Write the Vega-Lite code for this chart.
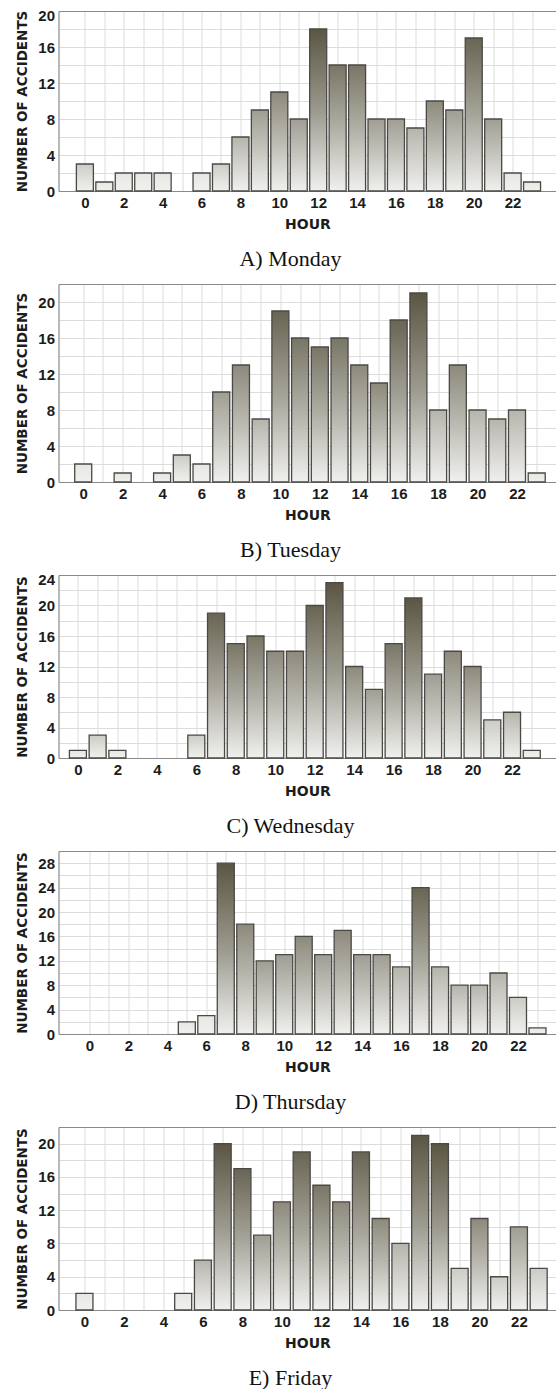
{
  "$schema": "https://vega.github.io/schema/vega-lite/v6.json",
  "background": "white",
  "padding": {"left": 15.5, "top": 8, "right": 0, "bottom": 0},
  "bounds": "flush",
  "spacing": 93,
  "datasets": {
    "accidents": [
      {"day": "Monday", "hour": 0, "n": 3}, {"day": "Monday", "hour": 1, "n": 1}, {"day": "Monday", "hour": 2, "n": 2}, {"day": "Monday", "hour": 3, "n": 2},
      {"day": "Monday", "hour": 4, "n": 2}, {"day": "Monday", "hour": 5, "n": 0}, {"day": "Monday", "hour": 6, "n": 2}, {"day": "Monday", "hour": 7, "n": 3},
      {"day": "Monday", "hour": 8, "n": 6}, {"day": "Monday", "hour": 9, "n": 9}, {"day": "Monday", "hour": 10, "n": 11}, {"day": "Monday", "hour": 11, "n": 8},
      {"day": "Monday", "hour": 12, "n": 18}, {"day": "Monday", "hour": 13, "n": 14}, {"day": "Monday", "hour": 14, "n": 14}, {"day": "Monday", "hour": 15, "n": 8},
      {"day": "Monday", "hour": 16, "n": 8}, {"day": "Monday", "hour": 17, "n": 7}, {"day": "Monday", "hour": 18, "n": 10}, {"day": "Monday", "hour": 19, "n": 9},
      {"day": "Monday", "hour": 20, "n": 17}, {"day": "Monday", "hour": 21, "n": 8}, {"day": "Monday", "hour": 22, "n": 2}, {"day": "Monday", "hour": 23, "n": 1},
      {"day": "Tuesday", "hour": 0, "n": 2}, {"day": "Tuesday", "hour": 1, "n": 0}, {"day": "Tuesday", "hour": 2, "n": 1}, {"day": "Tuesday", "hour": 3, "n": 0},
      {"day": "Tuesday", "hour": 4, "n": 1}, {"day": "Tuesday", "hour": 5, "n": 3}, {"day": "Tuesday", "hour": 6, "n": 2}, {"day": "Tuesday", "hour": 7, "n": 10},
      {"day": "Tuesday", "hour": 8, "n": 13}, {"day": "Tuesday", "hour": 9, "n": 7}, {"day": "Tuesday", "hour": 10, "n": 19}, {"day": "Tuesday", "hour": 11, "n": 16},
      {"day": "Tuesday", "hour": 12, "n": 15}, {"day": "Tuesday", "hour": 13, "n": 16}, {"day": "Tuesday", "hour": 14, "n": 13}, {"day": "Tuesday", "hour": 15, "n": 11},
      {"day": "Tuesday", "hour": 16, "n": 18}, {"day": "Tuesday", "hour": 17, "n": 21}, {"day": "Tuesday", "hour": 18, "n": 8}, {"day": "Tuesday", "hour": 19, "n": 13},
      {"day": "Tuesday", "hour": 20, "n": 8}, {"day": "Tuesday", "hour": 21, "n": 7}, {"day": "Tuesday", "hour": 22, "n": 8}, {"day": "Tuesday", "hour": 23, "n": 1},
      {"day": "Wednesday", "hour": 0, "n": 1}, {"day": "Wednesday", "hour": 1, "n": 3}, {"day": "Wednesday", "hour": 2, "n": 1}, {"day": "Wednesday", "hour": 3, "n": 0},
      {"day": "Wednesday", "hour": 4, "n": 0}, {"day": "Wednesday", "hour": 5, "n": 0}, {"day": "Wednesday", "hour": 6, "n": 3}, {"day": "Wednesday", "hour": 7, "n": 19},
      {"day": "Wednesday", "hour": 8, "n": 15}, {"day": "Wednesday", "hour": 9, "n": 16}, {"day": "Wednesday", "hour": 10, "n": 14}, {"day": "Wednesday", "hour": 11, "n": 14},
      {"day": "Wednesday", "hour": 12, "n": 20}, {"day": "Wednesday", "hour": 13, "n": 23}, {"day": "Wednesday", "hour": 14, "n": 12}, {"day": "Wednesday", "hour": 15, "n": 9},
      {"day": "Wednesday", "hour": 16, "n": 15}, {"day": "Wednesday", "hour": 17, "n": 21}, {"day": "Wednesday", "hour": 18, "n": 11}, {"day": "Wednesday", "hour": 19, "n": 14},
      {"day": "Wednesday", "hour": 20, "n": 12}, {"day": "Wednesday", "hour": 21, "n": 5}, {"day": "Wednesday", "hour": 22, "n": 6}, {"day": "Wednesday", "hour": 23, "n": 1},
      {"day": "Thursday", "hour": 0, "n": 0}, {"day": "Thursday", "hour": 1, "n": 0}, {"day": "Thursday", "hour": 2, "n": 0}, {"day": "Thursday", "hour": 3, "n": 0},
      {"day": "Thursday", "hour": 4, "n": 0}, {"day": "Thursday", "hour": 5, "n": 2}, {"day": "Thursday", "hour": 6, "n": 3}, {"day": "Thursday", "hour": 7, "n": 28},
      {"day": "Thursday", "hour": 8, "n": 18}, {"day": "Thursday", "hour": 9, "n": 12}, {"day": "Thursday", "hour": 10, "n": 13}, {"day": "Thursday", "hour": 11, "n": 16},
      {"day": "Thursday", "hour": 12, "n": 13}, {"day": "Thursday", "hour": 13, "n": 17}, {"day": "Thursday", "hour": 14, "n": 13}, {"day": "Thursday", "hour": 15, "n": 13},
      {"day": "Thursday", "hour": 16, "n": 11}, {"day": "Thursday", "hour": 17, "n": 24}, {"day": "Thursday", "hour": 18, "n": 11}, {"day": "Thursday", "hour": 19, "n": 8},
      {"day": "Thursday", "hour": 20, "n": 8}, {"day": "Thursday", "hour": 21, "n": 10}, {"day": "Thursday", "hour": 22, "n": 6}, {"day": "Thursday", "hour": 23, "n": 1},
      {"day": "Friday", "hour": 0, "n": 2}, {"day": "Friday", "hour": 1, "n": 0}, {"day": "Friday", "hour": 2, "n": 0}, {"day": "Friday", "hour": 3, "n": 0},
      {"day": "Friday", "hour": 4, "n": 0}, {"day": "Friday", "hour": 5, "n": 2}, {"day": "Friday", "hour": 6, "n": 6}, {"day": "Friday", "hour": 7, "n": 20},
      {"day": "Friday", "hour": 8, "n": 17}, {"day": "Friday", "hour": 9, "n": 9}, {"day": "Friday", "hour": 10, "n": 13}, {"day": "Friday", "hour": 11, "n": 19},
      {"day": "Friday", "hour": 12, "n": 15}, {"day": "Friday", "hour": 13, "n": 13}, {"day": "Friday", "hour": 14, "n": 19}, {"day": "Friday", "hour": 15, "n": 11},
      {"day": "Friday", "hour": 16, "n": 8}, {"day": "Friday", "hour": 17, "n": 21}, {"day": "Friday", "hour": 18, "n": 20}, {"day": "Friday", "hour": 19, "n": 5},
      {"day": "Friday", "hour": 20, "n": 11}, {"day": "Friday", "hour": 21, "n": 4}, {"day": "Friday", "hour": 22, "n": 10}, {"day": "Friday", "hour": 23, "n": 5}
    ]
  },
  "vconcat": [
    {
      "width": 498, "height": 180,
      "title": {"text": "A) Monday", "dx": -17},
      "data": {"name": "accidents"},
      "transform": [{"filter": "datum.day === 'Monday' && datum.n > 0"}],
      "mark": {"type": "bar", "size": 17, "stroke": "#4a4946", "strokeWidth": 1.3},
      "encoding": {
        "x": {"field": "hour", "type": "quantitative", "scale": {"domain": [-1.1, 24], "nice": false, "zero": false},
              "axis": {"title": "HOUR", "values": [0,1,2,3,4,5,6,7,8,9,10,11,12,13,14,15,16,17,18,19,20,21,22,23], "labelExpr": "datum.value % 2 === 0 ? datum.label : ''"}},
        "y": {"field": "n", "type": "quantitative", "scale": {"domain": [0, 20], "nice": false},
              "axis": {"title": "NUMBER OF ACCIDENTS", "values": [0,2,4,6,8,10,12,14,16,18,20], "labelExpr": "datum.value % 4 === 0 ? datum.label : ''",
                       "labelOffset": {"condition": {"test": "datum.value === 20", "value": 4}, "value": 0},
                       "gridColor": {"condition": {"test": "datum.value === 20", "value": "#8a8a8a"}, "value": "#dcdcdc"}}},
        "color": {
          "condition": [
            {"test": "datum.n >= 17.5", "value": {"gradient": "linear", "x1": 0, "y1": 0, "x2": 0, "y2": 1, "stops": [{"offset": 0, "color": "#5b5643"}, {"offset": 0.5, "color": "#9b998d"}, {"offset": 1, "color": "#f0f0ee"}]}},
            {"test": "datum.n >= 15", "value": {"gradient": "linear", "x1": 0, "y1": 0, "x2": 0, "y2": 1, "stops": [{"offset": 0, "color": "#696554"}, {"offset": 0.5, "color": "#a6a499"}, {"offset": 1, "color": "#f0f0ee"}]}},
            {"test": "datum.n >= 12.5", "value": {"gradient": "linear", "x1": 0, "y1": 0, "x2": 0, "y2": 1, "stops": [{"offset": 0, "color": "#797666"}, {"offset": 0.5, "color": "#b0afa5"}, {"offset": 1, "color": "#f0f0ee"}]}},
            {"test": "datum.n >= 10", "value": {"gradient": "linear", "x1": 0, "y1": 0, "x2": 0, "y2": 1, "stops": [{"offset": 0, "color": "#8d8a7c"}, {"offset": 0.5, "color": "#bbbab1"}, {"offset": 1, "color": "#f0f0ee"}]}},
            {"test": "datum.n >= 7.5", "value": {"gradient": "linear", "x1": 0, "y1": 0, "x2": 0, "y2": 1, "stops": [{"offset": 0, "color": "#a09e93"}, {"offset": 0.5, "color": "#c6c5be"}, {"offset": 1, "color": "#f0f0ee"}]}},
            {"test": "datum.n >= 5", "value": {"gradient": "linear", "x1": 0, "y1": 0, "x2": 0, "y2": 1, "stops": [{"offset": 0, "color": "#b6b5ac"}, {"offset": 0.5, "color": "#d3d2cd"}, {"offset": 1, "color": "#f0f0ee"}]}},
            {"test": "datum.n >= 2.5", "value": {"gradient": "linear", "x1": 0, "y1": 0, "x2": 0, "y2": 1, "stops": [{"offset": 0, "color": "#cccbc5"}, {"offset": 0.5, "color": "#dfdfda"}, {"offset": 1, "color": "#f0f0ee"}]}}
          ],
          "value": {"gradient": "linear", "x1": 0, "y1": 0, "x2": 0, "y2": 1, "stops": [{"offset": 0, "color": "#e6e6e2"}, {"offset": 0.5, "color": "#ececE9"}, {"offset": 1, "color": "#f0f0ee"}]}
        }
      }
    },
    {
      "width": 498, "height": 198,
      "title": {"text": "B) Tuesday", "dx": -17},
      "data": {"name": "accidents"},
      "transform": [{"filter": "datum.day === 'Tuesday' && datum.n > 0"}],
      "mark": {"type": "bar", "size": 17, "stroke": "#4a4946", "strokeWidth": 1.3},
      "encoding": {
        "x": {"field": "hour", "type": "quantitative", "scale": {"domain": [-1.0, 23.75], "nice": false, "zero": false},
              "axis": {"title": "HOUR", "values": [0,1,2,3,4,5,6,7,8,9,10,11,12,13,14,15,16,17,18,19,20,21,22,23], "labelExpr": "datum.value % 2 === 0 ? datum.label : ''"}},
        "y": {"field": "n", "type": "quantitative", "scale": {"domain": [0, 22], "nice": false},
              "axis": {"title": "NUMBER OF ACCIDENTS", "values": [0,2,4,6,8,10,12,14,16,18,20,22], "labelExpr": "datum.value % 4 === 0 ? datum.label : ''",
                       "gridColor": {"condition": {"test": "datum.value === 22", "value": "#8a8a8a"}, "value": "#dcdcdc"}}},
        "color": {
          "condition": [
            {"test": "datum.n >= 19.25", "value": {"gradient": "linear", "x1": 0, "y1": 0, "x2": 0, "y2": 1, "stops": [{"offset": 0, "color": "#5b5643"}, {"offset": 0.5, "color": "#9b998d"}, {"offset": 1, "color": "#f0f0ee"}]}},
            {"test": "datum.n >= 16.5", "value": {"gradient": "linear", "x1": 0, "y1": 0, "x2": 0, "y2": 1, "stops": [{"offset": 0, "color": "#696554"}, {"offset": 0.5, "color": "#a6a499"}, {"offset": 1, "color": "#f0f0ee"}]}},
            {"test": "datum.n >= 13.75", "value": {"gradient": "linear", "x1": 0, "y1": 0, "x2": 0, "y2": 1, "stops": [{"offset": 0, "color": "#797666"}, {"offset": 0.5, "color": "#b0afa5"}, {"offset": 1, "color": "#f0f0ee"}]}},
            {"test": "datum.n >= 11", "value": {"gradient": "linear", "x1": 0, "y1": 0, "x2": 0, "y2": 1, "stops": [{"offset": 0, "color": "#8d8a7c"}, {"offset": 0.5, "color": "#bbbab1"}, {"offset": 1, "color": "#f0f0ee"}]}},
            {"test": "datum.n >= 8.25", "value": {"gradient": "linear", "x1": 0, "y1": 0, "x2": 0, "y2": 1, "stops": [{"offset": 0, "color": "#a09e93"}, {"offset": 0.5, "color": "#c6c5be"}, {"offset": 1, "color": "#f0f0ee"}]}},
            {"test": "datum.n >= 5.5", "value": {"gradient": "linear", "x1": 0, "y1": 0, "x2": 0, "y2": 1, "stops": [{"offset": 0, "color": "#b6b5ac"}, {"offset": 0.5, "color": "#d3d2cd"}, {"offset": 1, "color": "#f0f0ee"}]}},
            {"test": "datum.n >= 2.75", "value": {"gradient": "linear", "x1": 0, "y1": 0, "x2": 0, "y2": 1, "stops": [{"offset": 0, "color": "#cccbc5"}, {"offset": 0.5, "color": "#dfdfda"}, {"offset": 1, "color": "#f0f0ee"}]}}
          ],
          "value": {"gradient": "linear", "x1": 0, "y1": 0, "x2": 0, "y2": 1, "stops": [{"offset": 0, "color": "#e6e6e2"}, {"offset": 0.5, "color": "#ececE9"}, {"offset": 1, "color": "#f0f0ee"}]}
        }
      }
    },
    {
      "width": 498, "height": 183,
      "title": {"text": "C) Wednesday", "dx": -17},
      "data": {"name": "accidents"},
      "transform": [{"filter": "datum.day === 'Wednesday' && datum.n > 0"}],
      "mark": {"type": "bar", "size": 17, "stroke": "#4a4946", "strokeWidth": 1.3},
      "encoding": {
        "x": {"field": "hour", "type": "quantitative", "scale": {"domain": [-0.73, 24], "nice": false, "zero": false},
              "axis": {"title": "HOUR", "values": [0,1,2,3,4,5,6,7,8,9,10,11,12,13,14,15,16,17,18,19,20,21,22,23], "labelExpr": "datum.value % 2 === 0 ? datum.label : ''"}},
        "y": {"field": "n", "type": "quantitative", "scale": {"domain": [0, 24], "nice": false},
              "axis": {"title": "NUMBER OF ACCIDENTS", "values": [0,2,4,6,8,10,12,14,16,18,20,22,24], "labelExpr": "datum.value % 4 === 0 ? datum.label : ''",
                       "labelOffset": {"condition": {"test": "datum.value === 24", "value": 4}, "value": 0},
                       "gridColor": {"condition": {"test": "datum.value === 24", "value": "#8a8a8a"}, "value": "#dcdcdc"}}},
        "color": {
          "condition": [
            {"test": "datum.n >= 21", "value": {"gradient": "linear", "x1": 0, "y1": 0, "x2": 0, "y2": 1, "stops": [{"offset": 0, "color": "#5b5643"}, {"offset": 0.5, "color": "#9b998d"}, {"offset": 1, "color": "#f0f0ee"}]}},
            {"test": "datum.n >= 18", "value": {"gradient": "linear", "x1": 0, "y1": 0, "x2": 0, "y2": 1, "stops": [{"offset": 0, "color": "#696554"}, {"offset": 0.5, "color": "#a6a499"}, {"offset": 1, "color": "#f0f0ee"}]}},
            {"test": "datum.n >= 15", "value": {"gradient": "linear", "x1": 0, "y1": 0, "x2": 0, "y2": 1, "stops": [{"offset": 0, "color": "#797666"}, {"offset": 0.5, "color": "#b0afa5"}, {"offset": 1, "color": "#f0f0ee"}]}},
            {"test": "datum.n >= 12", "value": {"gradient": "linear", "x1": 0, "y1": 0, "x2": 0, "y2": 1, "stops": [{"offset": 0, "color": "#8d8a7c"}, {"offset": 0.5, "color": "#bbbab1"}, {"offset": 1, "color": "#f0f0ee"}]}},
            {"test": "datum.n >= 9", "value": {"gradient": "linear", "x1": 0, "y1": 0, "x2": 0, "y2": 1, "stops": [{"offset": 0, "color": "#a09e93"}, {"offset": 0.5, "color": "#c6c5be"}, {"offset": 1, "color": "#f0f0ee"}]}},
            {"test": "datum.n >= 6", "value": {"gradient": "linear", "x1": 0, "y1": 0, "x2": 0, "y2": 1, "stops": [{"offset": 0, "color": "#b6b5ac"}, {"offset": 0.5, "color": "#d3d2cd"}, {"offset": 1, "color": "#f0f0ee"}]}},
            {"test": "datum.n >= 3", "value": {"gradient": "linear", "x1": 0, "y1": 0, "x2": 0, "y2": 1, "stops": [{"offset": 0, "color": "#cccbc5"}, {"offset": 0.5, "color": "#dfdfda"}, {"offset": 1, "color": "#f0f0ee"}]}}
          ],
          "value": {"gradient": "linear", "x1": 0, "y1": 0, "x2": 0, "y2": 1, "stops": [{"offset": 0, "color": "#e6e6e2"}, {"offset": 0.5, "color": "#ececE9"}, {"offset": 1, "color": "#f0f0ee"}]}
        }
      }
    },
    {
      "width": 498, "height": 183,
      "title": {"text": "D) Thursday", "dx": -17},
      "data": {"name": "accidents"},
      "transform": [{"filter": "datum.day === 'Thursday' && datum.n > 0"}],
      "mark": {"type": "bar", "size": 17, "stroke": "#4a4946", "strokeWidth": 1.3},
      "encoding": {
        "x": {"field": "hour", "type": "quantitative", "scale": {"domain": [-1.33, 23.72], "nice": false, "zero": false},
              "axis": {"title": "HOUR", "values": [0,1,2,3,4,5,6,7,8,9,10,11,12,13,14,15,16,17,18,19,20,21,22,23], "labelExpr": "datum.value % 2 === 0 ? datum.label : ''"}},
        "y": {"field": "n", "type": "quantitative", "scale": {"domain": [0, 30], "nice": false},
              "axis": {"title": "NUMBER OF ACCIDENTS", "values": [0,2,4,6,8,10,12,14,16,18,20,22,24,26,28,30], "labelExpr": "datum.value % 4 === 0 ? datum.label : ''",
                       "gridColor": {"condition": {"test": "datum.value === 30", "value": "#8a8a8a"}, "value": "#dcdcdc"}}},
        "color": {
          "condition": [
            {"test": "datum.n >= 26.25", "value": {"gradient": "linear", "x1": 0, "y1": 0, "x2": 0, "y2": 1, "stops": [{"offset": 0, "color": "#5b5643"}, {"offset": 0.5, "color": "#9b998d"}, {"offset": 1, "color": "#f0f0ee"}]}},
            {"test": "datum.n >= 22.5", "value": {"gradient": "linear", "x1": 0, "y1": 0, "x2": 0, "y2": 1, "stops": [{"offset": 0, "color": "#696554"}, {"offset": 0.5, "color": "#a6a499"}, {"offset": 1, "color": "#f0f0ee"}]}},
            {"test": "datum.n >= 18.75", "value": {"gradient": "linear", "x1": 0, "y1": 0, "x2": 0, "y2": 1, "stops": [{"offset": 0, "color": "#797666"}, {"offset": 0.5, "color": "#b0afa5"}, {"offset": 1, "color": "#f0f0ee"}]}},
            {"test": "datum.n >= 15", "value": {"gradient": "linear", "x1": 0, "y1": 0, "x2": 0, "y2": 1, "stops": [{"offset": 0, "color": "#8d8a7c"}, {"offset": 0.5, "color": "#bbbab1"}, {"offset": 1, "color": "#f0f0ee"}]}},
            {"test": "datum.n >= 11.25", "value": {"gradient": "linear", "x1": 0, "y1": 0, "x2": 0, "y2": 1, "stops": [{"offset": 0, "color": "#a09e93"}, {"offset": 0.5, "color": "#c6c5be"}, {"offset": 1, "color": "#f0f0ee"}]}},
            {"test": "datum.n >= 7.5", "value": {"gradient": "linear", "x1": 0, "y1": 0, "x2": 0, "y2": 1, "stops": [{"offset": 0, "color": "#b6b5ac"}, {"offset": 0.5, "color": "#d3d2cd"}, {"offset": 1, "color": "#f0f0ee"}]}},
            {"test": "datum.n >= 3.75", "value": {"gradient": "linear", "x1": 0, "y1": 0, "x2": 0, "y2": 1, "stops": [{"offset": 0, "color": "#cccbc5"}, {"offset": 0.5, "color": "#dfdfda"}, {"offset": 1, "color": "#f0f0ee"}]}}
          ],
          "value": {"gradient": "linear", "x1": 0, "y1": 0, "x2": 0, "y2": 1, "stops": [{"offset": 0, "color": "#e6e6e2"}, {"offset": 0.5, "color": "#ececE9"}, {"offset": 1, "color": "#f0f0ee"}]}
        }
      }
    },
    {
      "width": 498, "height": 183,
      "title": {"text": "E) Friday", "dx": -17},
      "data": {"name": "accidents"},
      "transform": [{"filter": "datum.day === 'Friday' && datum.n > 0"}],
      "mark": {"type": "bar", "size": 17, "stroke": "#4a4946", "strokeWidth": 1.3},
      "encoding": {
        "x": {"field": "hour", "type": "quantitative", "scale": {"domain": [-1.06, 23.65], "nice": false, "zero": false},
              "axis": {"title": "HOUR", "values": [0,1,2,3,4,5,6,7,8,9,10,11,12,13,14,15,16,17,18,19,20,21,22,23], "labelExpr": "datum.value % 2 === 0 ? datum.label : ''"}},
        "y": {"field": "n", "type": "quantitative", "scale": {"domain": [0, 22], "nice": false},
              "axis": {"title": "NUMBER OF ACCIDENTS", "values": [0,2,4,6,8,10,12,14,16,18,20,22], "labelExpr": "datum.value % 4 === 0 ? datum.label : ''",
                       "gridColor": {"condition": {"test": "datum.value === 22", "value": "#8a8a8a"}, "value": "#dcdcdc"}}},
        "color": {
          "condition": [
            {"test": "datum.n >= 19.25", "value": {"gradient": "linear", "x1": 0, "y1": 0, "x2": 0, "y2": 1, "stops": [{"offset": 0, "color": "#5b5643"}, {"offset": 0.5, "color": "#9b998d"}, {"offset": 1, "color": "#f0f0ee"}]}},
            {"test": "datum.n >= 16.5", "value": {"gradient": "linear", "x1": 0, "y1": 0, "x2": 0, "y2": 1, "stops": [{"offset": 0, "color": "#696554"}, {"offset": 0.5, "color": "#a6a499"}, {"offset": 1, "color": "#f0f0ee"}]}},
            {"test": "datum.n >= 13.75", "value": {"gradient": "linear", "x1": 0, "y1": 0, "x2": 0, "y2": 1, "stops": [{"offset": 0, "color": "#797666"}, {"offset": 0.5, "color": "#b0afa5"}, {"offset": 1, "color": "#f0f0ee"}]}},
            {"test": "datum.n >= 11", "value": {"gradient": "linear", "x1": 0, "y1": 0, "x2": 0, "y2": 1, "stops": [{"offset": 0, "color": "#8d8a7c"}, {"offset": 0.5, "color": "#bbbab1"}, {"offset": 1, "color": "#f0f0ee"}]}},
            {"test": "datum.n >= 8.25", "value": {"gradient": "linear", "x1": 0, "y1": 0, "x2": 0, "y2": 1, "stops": [{"offset": 0, "color": "#a09e93"}, {"offset": 0.5, "color": "#c6c5be"}, {"offset": 1, "color": "#f0f0ee"}]}},
            {"test": "datum.n >= 5.5", "value": {"gradient": "linear", "x1": 0, "y1": 0, "x2": 0, "y2": 1, "stops": [{"offset": 0, "color": "#b6b5ac"}, {"offset": 0.5, "color": "#d3d2cd"}, {"offset": 1, "color": "#f0f0ee"}]}},
            {"test": "datum.n >= 2.75", "value": {"gradient": "linear", "x1": 0, "y1": 0, "x2": 0, "y2": 1, "stops": [{"offset": 0, "color": "#cccbc5"}, {"offset": 0.5, "color": "#dfdfda"}, {"offset": 1, "color": "#f0f0ee"}]}}
          ],
          "value": {"gradient": "linear", "x1": 0, "y1": 0, "x2": 0, "y2": 1, "stops": [{"offset": 0, "color": "#e6e6e2"}, {"offset": 0.5, "color": "#ececE9"}, {"offset": 1, "color": "#f0f0ee"}]}
        }
      }
    }
  ],
  "config": {
    "view": {"stroke": null},
    "axis": {
      "labelFont": "Liberation Sans, Arial, sans-serif",
      "labelFontWeight": "bold",
      "labelFontSize": 15,
      "labelColor": "#1c1c1c",
      "labelOverlap": false,
      "labelFlush": false,
      "titleFont": "DejaVu Sans, sans-serif",
      "titleFontWeight": "bold",
      "titleColor": "#1c1c1c",
      "gridColor": "#dcdcdc",
      "gridWidth": 1,
      "domainColor": "#8a8a8a",
      "domainWidth": 1.2,
      "ticks": false,
      "labelPadding": 4
    },
    "axisX": {"titleFontSize": 14, "titlePadding": 7, "labelAngle": 0},
    "axisY": {"titleFontSize": 13.5, "titlePadding": 8},
    "title": {"font": "Liberation Serif, Times New Roman, serif", "fontSize": 22, "fontWeight": "normal", "color": "#111111", "orient": "bottom", "anchor": "middle", "offset": 18}
  }
}
